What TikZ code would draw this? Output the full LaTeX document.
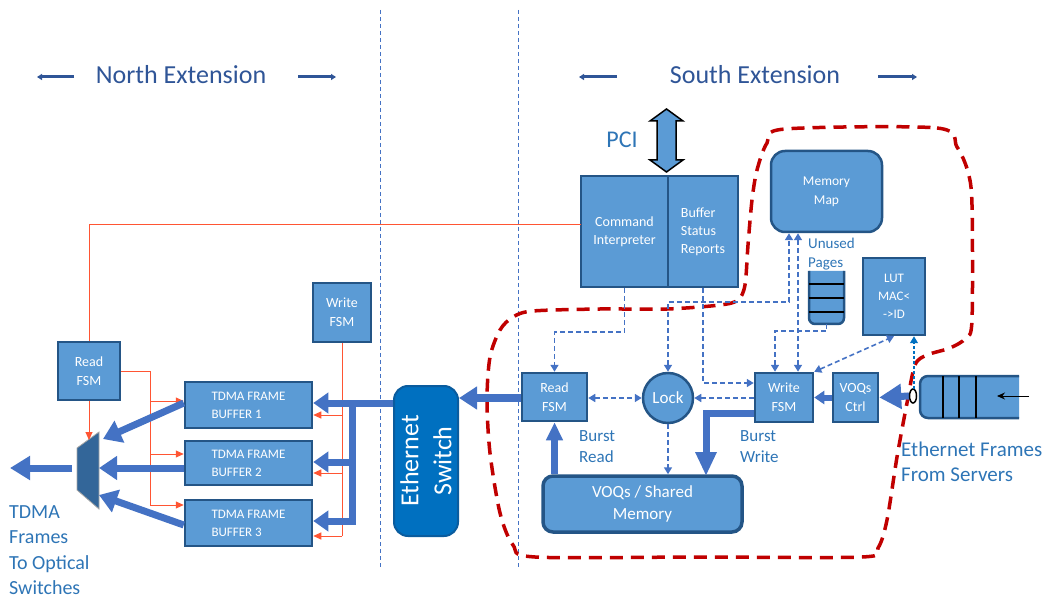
\documentclass[tikz,border=0pt]{standalone}
\usepackage{fontspec}
\setmainfont{Carlito}
\usetikzlibrary{arrows.meta}

\definecolor{boxfill}{HTML}{5B9BD5}
\definecolor{boxline}{HTML}{245586}
\definecolor{flow}{HTML}{4472C4}
\definecolor{labelblue}{HTML}{2E75B6}
\definecolor{headblue}{HTML}{2F5597}
\definecolor{ctrlred}{HTML}{FF5533}
\definecolor{zonered}{HTML}{C00000}
\definecolor{switchblue}{HTML}{0070C0}
\definecolor{switchline}{HTML}{0A5C9E}
\definecolor{muxblue}{HTML}{336699}

\newcommand{\fsz}[2]{\fontsize{#1}{#2}\selectfont}

\begin{document}
\begin{tikzpicture}[x=1pt,y=-1pt,
  blk/.style={draw=boxline, line width=2.5pt, fill=boxfill, text=white,
              align=center, inner sep=0pt},
  lbl/.style={text=labelblue, align=left, inner sep=0pt},
  sep/.style={draw=flow, line width=0.8pt, dash pattern=on 4pt off 3pt},
  hdr/.style={draw=headblue, line width=3pt, -{Triangle[length=5pt,width=6pt]}},
  zone/.style={draw=zonered, line width=3.5pt, dash pattern=on 13pt off 8pt},
  fat/.style={draw=flow, line width=7pt, line join=miter,
              -{Triangle[length=15pt,width=20pt]}},
  ctl/.style={draw=ctrlred, line width=1pt},
  ctlarrow/.style={ctl, -{Triangle[length=8pt,width=7pt]}},
  dsh/.style={draw=flow, line width=1.6pt, dash pattern=on 5pt off 3pt},
  dtip/.tip={Triangle[length=7pt,width=8pt]},
]
\useasboundingbox (0,0) rectangle (1049,601);

% ---- section separators ----
\draw[sep] (380,10) -- (380,567);
\draw[sep] (518,10) -- (518,567);

% ---- section headings ----
\node[font=\fsz{26}{30}, text=headblue] (northhead) at (181,75) {North Extension};
\node[font=\fsz{26}{30}, text=headblue] (southhead) at (755,75) {South Extension};
\draw[hdr] (74,77) -- (37,77);
\draw[hdr] (298,77) -- (336,77);
\draw[hdr] (617,77) -- (579,77);
\draw[hdr] (878,77) -- (917,77);

% ---- south extension boundary ----
\draw[zone] plot[smooth cycle, tension=0.5] coordinates {
  (785,129) (937,128) (957,147) (968,172) (972,205) (972,320) (966,338)
  (950,348) (927,355) (915,365) (907,403) (897,457) (887,520) (878,548)
  (862,557) (700,557) (535,557) (513,545) (500,513) (490,453) (487,400)
  (490,357) (500,330) (513,317) (533,311) (600,309) (667,309) (720,305)
  (738,300) (745,285) (748,245) (752,200) (757,170) (767,143)};

% ---- PCI bus ----
\node[font=\fsz{24}{28}, text=labelblue] (pci) at (622,140) {PCI};
\draw[fill=boxfill, draw=black, line width=1.5pt, line join=miter]
  (666.5,109) -- (683,121) -- (676,121) -- (676,160) -- (683,160)
  -- (666.5,172) -- (650,160) -- (657,160) -- (657,121) -- (650,121) -- cycle;

% ---- south blocks ----
\node[blk, minimum width=87pt, minimum height=111pt, font=\fsz{14}{18}]
  (cmdL) at (624.5,231.5) {Command\\Interpreter};
\node[blk, minimum width=70pt, minimum height=111pt, font=\fsz{14}{18}, align=left]
  (cmdR) at (703,231.5) {Buffer\\Status\\Reports};
\node[blk, rounded corners=14pt, minimum width=111pt, minimum height=81pt,
  font=\fsz{13.5}{19}] (memmap) at (826.5,191.5) {Memory\\Map};
\node[lbl, anchor=west, font=\fsz{15}{19}] (unused) at (808,254) {Unused\\Pages};
% free page stack (open at the top)
\fill[boxfill] (809,271) [rounded corners=6pt] -- (809,324) -- (844,324)
  [sharp corners] -- (844,271) -- cycle;
\draw[boxline, line width=2.5pt, rounded corners=6pt]
  (809,271) -- (809,324) -- (844,324) -- (844,271);
\foreach \yy in {284,298,312} \draw[black, line width=1.5pt] (809,\yy) -- (844,\yy);
\coordinate (stackbot) at (826.5,324);

\node[blk, minimum width=62pt, minimum height=77pt, font=\fsz{13}{18}]
  (lut) at (894,296.5) {LUT\\MAC<\\->ID};
\node[blk, minimum width=65pt, minimum height=48pt, font=\fsz{14}{19}]
  (readS) at (554.5,397) {Read\\FSM};
\node[blk, circle, minimum size=50pt, font=\fsz{17}{20}] (lock) at (668,398) {Lock};
\node[blk, minimum width=58pt, minimum height=49pt, font=\fsz{14}{19}]
  (writeS) at (784,397.5) {Write\\FSM};
\node[blk, minimum width=45pt, minimum height=49pt, font=\fsz{14}{19}]
  (voqctrl) at (855.5,397.5) {VOQs\\Ctrl};
\node[blk, line width=3.5pt, rounded corners=10pt, minimum width=199pt,
  minimum height=56pt, font=\fsz{17}{22}] (shmem) at (642.5,504) {VOQs / Shared\\Memory};

% incoming frame queue
\fill[boxfill] (1019,376) [rounded corners=8pt] -- (920,376) -- (920,418)
  [sharp corners] -- (1019,418) -- cycle;
\draw[boxline, line width=2.5pt, rounded corners=8pt]
  (1019,376) -- (920,376) -- (920,418) -- (1019,418);
\foreach \xx in {943,959,976} \draw[black, line width=1.5pt] (\xx,376) -- (\xx,418);
\draw[black, line width=1pt, -{Stealth[length=8pt,width=7pt]}] (1029,396) -- (997,396);
\coordinate (qout) at (909,396);
\draw[fat, line width=7pt, -{Triangle[length=22pt,width=24pt]}] (qout) -- (voqctrl.east);
\draw[black, line width=1.5pt, fill=white] (913,396) ellipse [x radius=3.5, y radius=7];
\coordinate (tap) at (914,389);

\node[lbl, anchor=west, font=\fsz{21}{25}] (ethin) at (901,462) {Ethernet Frames\\From Servers};
\node[lbl, anchor=west, font=\fsz{17}{21}] (bread) at (579,447) {Burst\\Read};
\node[lbl, anchor=west, font=\fsz{17}{21}] (bwrite) at (740,447) {Burst\\Write};

% ---- south control (dashed) ----
\draw[dsh, -dtip] (cmdL.south) -- ++(0,44) -| (readS.north);
\draw[dsh, -dtip] (cmdR.south) |- (writeS.west |- 0,383);
\draw[dsh, dtip-dtip] (lock.north) |- (789,302) -- (memmap.south -| 789,0);
\draw[dsh, dtip-dtip] (memmap.south -| 798,0) -- (writeS.north -| 798,0);
\draw[dsh, -dtip] (stackbot) -- ++(0,7) -| (writeS.north -| 775,0);
\draw[dsh, dtip-dtip] (readS.east |- lock) -- (lock.west);
\draw[dsh, -dtip] (writeS.west |- lock) -- (lock.east);
\draw[dsh, -dtip] (lock.south) -- (lock.south |- shmem.north);
\draw[dsh, dtip-dtip] (writeS.north east) -- (lut.south);
\draw[draw=switchblue, line width=1.3pt, dash pattern=on 3pt off 2pt, -dtip]
  (tap) -- (tap |- lut.south);

% ---- south data paths ----
\draw[fat, line width=6pt, -{Triangle[length=10pt,width=13pt]}] (voqctrl.west |- writeS) -- (writeS.east);
\draw[fat, -{Triangle[length=18pt,width=16pt]}] (shmem.north -| readS) -- (readS.south);
\draw[fat, -{Triangle[length=24pt,width=20pt]}] (writeS.west |- 0,413) -| (706,476);

% ---- Ethernet switch ----
\node[draw=switchline, line width=2pt, fill=switchblue, rounded corners=14pt,
  minimum width=64pt, minimum height=150pt, text=white, align=center,
  font=\fsz{26}{33}, inner sep=0pt] (switch) at (426,461) {};
\node[rotate=90, text=white, align=center, font=\fsz{26}{33}, inner sep=0pt]
  (switchtext) at (switch.center) {Ethernet\\Switch};
\draw[fat, line width=8pt, -{Triangle[length=18pt,width=22pt]}] (readS.west |- 0,398) -- (switch.east |- 0,398);

% ---- north blocks ----
\node[blk, minimum width=58pt, minimum height=59pt, font=\fsz{14}{19}]
  (writeN) at (342,312.5) {Write\\FSM};
\node[blk, minimum width=62pt, minimum height=58pt, font=\fsz{14}{19}]
  (readN) at (89,371) {Read\\FSM};
\node[blk, minimum width=127pt, minimum height=46pt, font=\fsz{13}{18}, align=left]
  (buf1) at (248.5,405) {TDMA FRAME\\BUFFER 1};
\node[blk, minimum width=127pt, minimum height=44pt, font=\fsz{13}{18}, align=left]
  (buf2) at (248.5,463) {TDMA FRAME\\BUFFER 2};
\node[blk, minimum width=127pt, minimum height=46pt, font=\fsz{13}{18}, align=left]
  (buf3) at (248.5,523) {TDMA FRAME\\BUFFER 3};

% multiplexer
\draw[fill=muxblue, draw=gray!70, line width=0.8pt]
  (77,448) -- (99,432) -- (99,509) -- (77,490) -- cycle;
\coordinate (muxtop) at (89,440);
\coordinate (muxin1) at (103,439);
\coordinate (muxin2) at (99,468);
\coordinate (muxin3) at (99,495);
\coordinate (muxout) at (72,468);
\coordinate (txout) at (10,468);

\node[lbl, anchor=west, font=\fsz{20}{25.5}] (txlabel) at (9,550)
  {TDMA\\Frames\\To Optical\\Switches};

% ---- north control (red) ----
\coordinate (cmdtap) at (581,225);
\draw[ctl] (readN.north) |- (cmdtap);
\draw[ctl] (readN.east) -| (150,505);
\draw[ctlarrow] (150,401) -- (buf1.west |- 0,401);
\draw[ctlarrow] (150,454) -- (buf2.west |- 0,454);
\draw[ctlarrow] (150,505) -- (buf3.west |- 0,505);
\draw[ctlarrow] (readN.south) -- (muxtop);
\draw[ctl] (writeN.south) -- (342,536);
\draw[ctlarrow] (342,415) -- (buf1.east |- 0,415);
\draw[ctlarrow] (342,473) -- (buf2.east |- 0,473);
\draw[ctlarrow] (342,536) -- (buf3.east |- 0,536);

% ---- north data paths ----
\draw[fat] (switch.west |- 0,403) -- (buf1.east |- 0,403);
\draw[fat] (352,403) |- (buf3.east |- 0,521);
\draw[fat] (352,462) -- (buf2.east |- 0,462);
\draw[fat, -{Triangle[length=18pt,width=23pt]}] (buf1.west |- 0,403) -- (muxin1);
\draw[fat, -{Triangle[length=18pt,width=23pt]}] (buf2.west |- muxin2) -- (muxin2);
\draw[fat, -{Triangle[length=18pt,width=23pt]}] (buf3.west |- 0,525) -- (muxin3);
\draw[fat, -{Triangle[length=20pt,width=23pt]}] (muxout) -- (txout);

\end{tikzpicture}
\end{document}
